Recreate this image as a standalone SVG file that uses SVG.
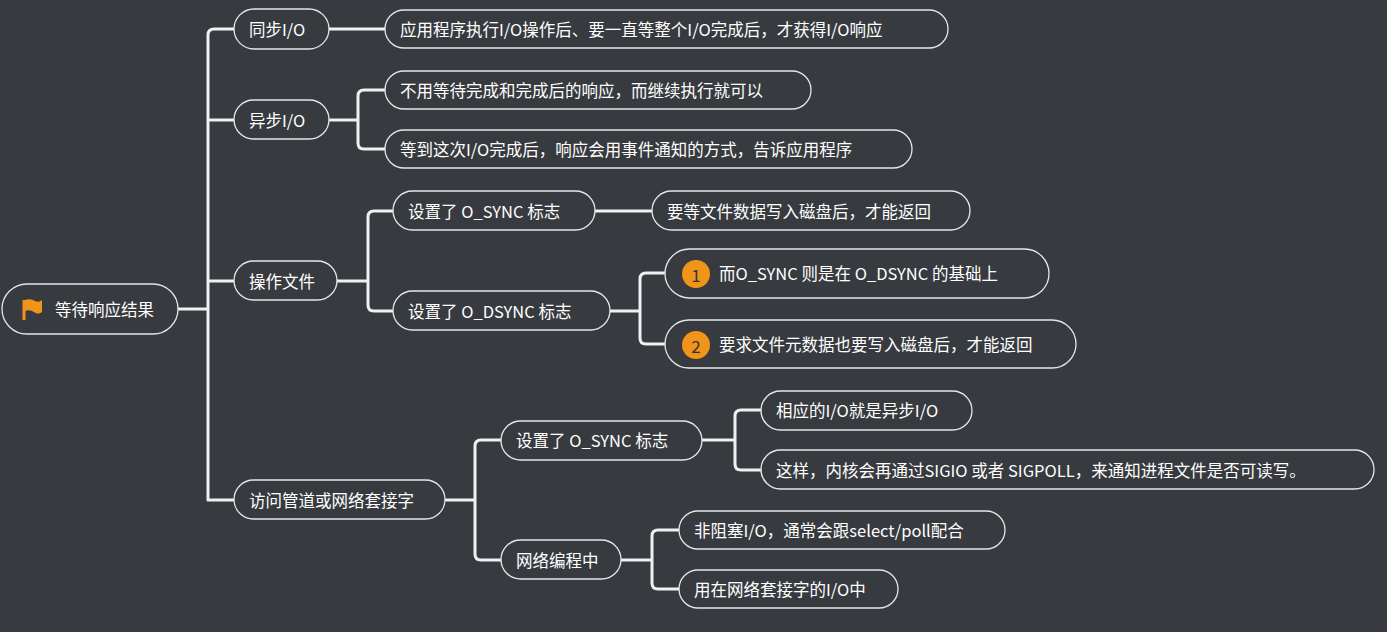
<svg xmlns="http://www.w3.org/2000/svg" width="1387" height="632" viewBox="0 0 1387 632">
<style>
.n rect{fill:#373a3e;stroke:#e6e6e6;stroke-width:1.3}
.n text{fill:#ffffff;font-family:"Noto Sans CJK SC","Noto Sans",sans-serif;font-size:16.5px;dominant-baseline:central}
.c path{fill:none;stroke:#f0f0f0;stroke-width:3;stroke-linecap:round}
.b circle{fill:#f0951a}
.b text{fill:#333;font-size:17px;text-anchor:middle}
</style>
<rect width="1387" height="632" fill="#373a3e"/>
<g class="c">
<path d="M178 309H208M329 29H385M208 500V35Q208 29 214 29H234M208 120H234M208 281H234M208 500H234"/>
<path d="M329 120H358M385 90H364Q358 90 358 96V143Q358 149 364 149H385"/>
<path d="M337 281H368M393 211H374Q368 211 368 217V305Q368 311 374 311H393M595 211H652"/>
<path d="M610 311H640M665 273H646Q640 273 640 279V338Q640 344 646 344H665"/>
<path d="M445 500H475M501 440H481Q475 440 475 446V554Q475 560 481 560H501"/>
<path d="M702 440H735M761 410H741Q735 410 735 416V464Q735 470 741 470H761"/>
<path d="M621 560H652M679 530H658Q652 530 652 536V583Q652 589 658 589H679"/>
</g>
<g id="root" class="n"><rect x="2" y="284" width="176" height="50" rx="25"/><path d="M24 300V320" stroke="#f0951a" stroke-width="3"/><path d="M25 300Q31 298 35 301Q39 303 42 300V312Q38 315 34 312Q30 309 25 311Z" fill="#f0951a"/><text x="55" y="309">等待响应结果</text></g>
<g id="n1" class="n"><rect x="234" y="9" width="95" height="40" rx="20"/><text x="249" y="29">同步I/O</text></g>
<g id="n2" class="n"><rect x="234" y="100" width="95" height="39" rx="19.5"/><text x="249" y="120">异步I/O</text></g>
<g id="n3" class="n"><rect x="234" y="261" width="103" height="39" rx="19.5"/><text x="249" y="281">操作文件</text></g>
<g id="n4" class="n"><rect x="234" y="480" width="211" height="39" rx="19.5"/><text x="249" y="500">访问管道或网络套接字</text></g>
<g id="n1a" class="n"><rect x="385" y="10" width="563" height="38" rx="19"/><text x="400" y="29">应用程序执行I/O操作后、要一直等整个I/O完成后，才获得I/O响应</text></g>
<g id="n2a" class="n"><rect x="385" y="71" width="426" height="38" rx="19"/><text x="400" y="90">不用等待完成和完成后的响应，而继续执行就可以</text></g>
<g id="n2b" class="n"><rect x="385" y="130" width="527" height="38" rx="19"/><text x="400" y="149">等到这次I/O完成后，响应会用事件通知的方式，告诉应用程序</text></g>
<g id="n3a" class="n"><rect x="393" y="191" width="202" height="39" rx="19.5"/><text x="408" y="211">设置了 O_SYNC 标志</text></g>
<g id="n3b" class="n"><rect x="393" y="291" width="217" height="39" rx="19.5"/><text x="408" y="311">设置了 O_DSYNC 标志</text></g>
<g id="n3a1" class="n"><rect x="652" y="191" width="318" height="39" rx="19.5"/><text x="667" y="211">要等文件数据写入磁盘后，才能返回</text></g>
<g id="n3b1" class="n"><rect x="665" y="249" width="384" height="49" rx="24.5"/><g class="b"><circle cx="696" cy="274" r="14"/><text x="696" y="274">1</text></g><text x="719" y="273">而O_SYNC 则是在 O_DSYNC 的基础上</text></g>
<g id="n3b2" class="n"><rect x="665" y="320" width="411" height="48" rx="24"/><g class="b"><circle cx="696" cy="345" r="14"/><text x="696" y="345">2</text></g><text x="719" y="344">要求文件元数据也要写入磁盘后，才能返回</text></g>
<g id="n4a" class="n"><rect x="501" y="421" width="201" height="39" rx="19.5"/><text x="516" y="440">设置了 O_SYNC 标志</text></g>
<g id="n4b" class="n"><rect x="501" y="540" width="120" height="39" rx="19.5"/><text x="516" y="560">网络编程中</text></g>
<g id="n4a1" class="n"><rect x="761" y="391" width="211" height="39" rx="19.5"/><text x="776" y="410">相应的I/O就是异步I/O</text></g>
<g id="n4a2" class="n"><rect x="761" y="450" width="613" height="39" rx="19.5"/><text x="776" y="470">这样，内核会再通过SIGIO 或者 SIGPOLL，来通知进程文件是否可读写。</text></g>
<g id="n4b1" class="n"><rect x="679" y="511" width="326" height="38" rx="19"/><text x="694" y="530">非阻塞I/O，通常会跟select/poll配合</text></g>
<g id="n4b2" class="n"><rect x="679" y="570" width="219" height="38" rx="19"/><text x="694" y="589">用在网络套接字的I/O中</text></g>
</svg>
